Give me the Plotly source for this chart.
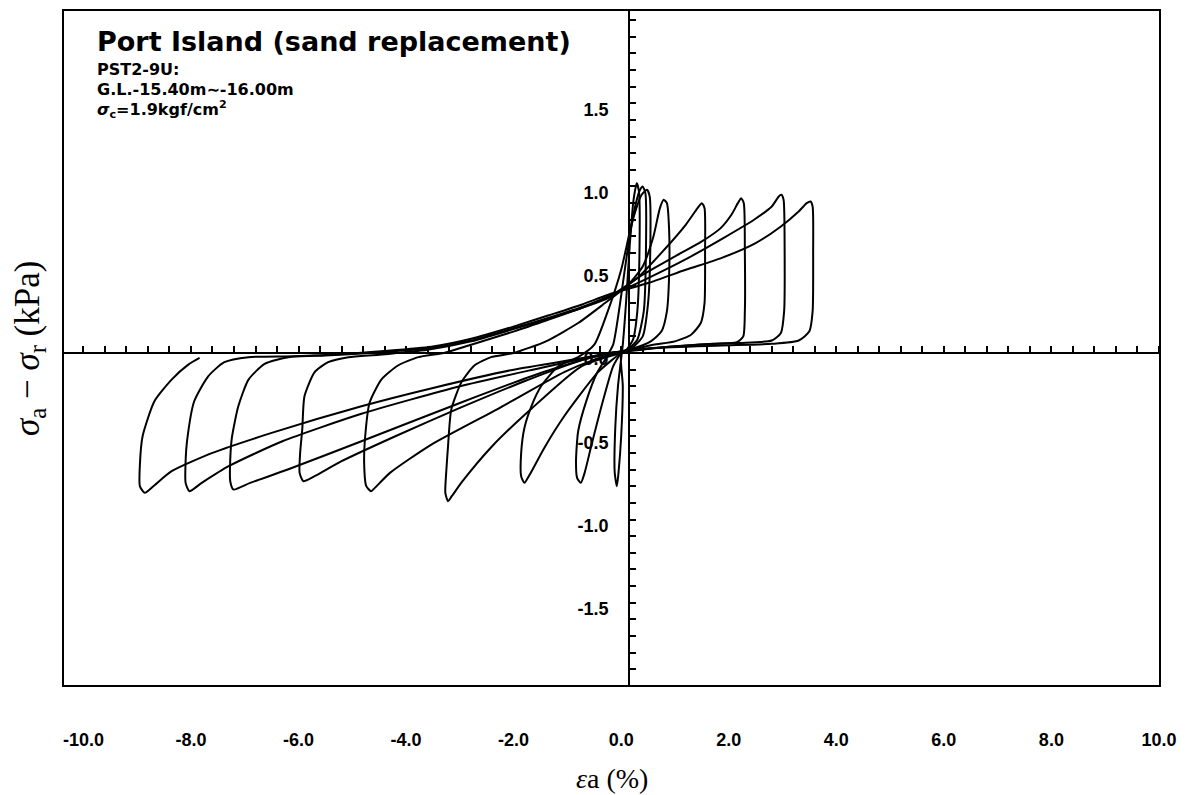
import plotly.graph_objects as go

# ---------------- data (strain % , deviator stress) ----------------
cycA_x = [0.0, 0.03, 0.0, -0.05, -0.08, -0.12, -0.11, -0.06, -0.01, 0.03, 0.09, 0.16, 0.23, 0.29, 0.33, 0.34, 0.3, 0.22, 0.1, 0.0]
cycA_y = [0.0, -0.2, -0.5, -0.72, -0.8, -0.72, -0.45, -0.2, -0.06, 0.05, 0.3, 0.65, 0.92, 1.02, 0.97, 0.6, 0.25, 0.08, 0.02, 0.0]

cycB_x = [0.0, -0.15, -0.35, -0.55, -0.68, -0.75, -0.82, -0.84, -0.8, -0.64, -0.45, -0.3, -0.15, -0.02, 0.12, 0.26, 0.35, 0.4, 0.45, 0.46, 0.42, 0.3, 0.12, 0.0]
cycB_y = [0.0, -0.08, -0.3, -0.55, -0.72, -0.78, -0.75, -0.65, -0.47, -0.28, -0.12, -0.04, 0.05, 0.3, 0.62, 0.88, 0.98, 1.0, 0.96, 0.6, 0.25, 0.08, 0.02, 0.0]

cycC_x = [0.0, -0.43, -1.06, -1.43, -1.7, -1.8, -1.86, -1.86, -1.8, -1.67, -1.49, -1.17, -0.8, -0.5, -0.25, 0.0, 0.2, 0.38, 0.48, 0.53, 0.54, 0.5, 0.4, 0.2, 0.0]
cycC_y = [0.0, -0.115, -0.38, -0.57, -0.73, -0.78, -0.74, -0.6, -0.45, -0.32, -0.2, -0.08, -0.025, 0.05, 0.25, 0.5, 0.78, 0.95, 0.98, 0.94, 0.6, 0.3, 0.1, 0.03, 0.0]

cycD_x = [0.0, -0.74, -1.67, -2.4, -2.95, -3.15, -3.22, -3.27, -3.25, -3.22, -3.16, -2.97, -2.73, -2.42, -2.0, -1.4, -0.8, -0.3, 0.1, 0.4, 0.6, 0.72, 0.79, 0.85, 0.89, 0.89, 0.85, 0.75, 0.55, 0.25, 0.0]
cycD_y = [0.0, -0.08, -0.335, -0.56, -0.77, -0.86, -0.89, -0.84, -0.7, -0.56, -0.34, -0.175, -0.075, -0.025, 0.0, 0.07, 0.18, 0.3, 0.4, 0.52, 0.7, 0.87, 0.92, 0.9, 0.75, 0.45, 0.25, 0.13, 0.07, 0.03, 0.01]

cycE_x = [0.0, -0.5, -1.06, -2.29, -3.53, -4.3, -4.58, -4.65, -4.74, -4.78, -4.76, -4.68, -4.46, -4.15, -3.77, -3.3, -2.79, -1.99, -1.36, -0.74, -0.24, 0.3, 0.8, 1.2, 1.42, 1.5, 1.55, 1.56, 1.55, 1.48, 1.3, 1.0, 0.6, 0.2, -0.2]
cycE_y = [0.01, -0.04, -0.115, -0.335, -0.55, -0.72, -0.81, -0.83, -0.8, -0.66, -0.5, -0.3, -0.16, -0.075, -0.025, 0.0, 0.05, 0.13, 0.2, 0.27, 0.33, 0.45, 0.62, 0.77, 0.87, 0.9, 0.87, 0.6, 0.3, 0.18, 0.11, 0.07, 0.05, 0.02, 0.0]

cycF_x = [-0.2, -0.7, -1.8, -3.0, -4.2, -5.2, -5.7, -5.91, -5.98, -5.97, -5.93, -5.89, -5.7, -5.45, -5.07, -4.5, -3.6, -2.79, -1.99, -1.36, -0.74, -0.24, 0.4, 1.0, 1.5, 1.85, 2.05, 2.17, 2.23, 2.28, 2.3, 2.3, 2.27, 2.15, 1.7, 1.0, 0.4, -0.2]
cycF_y = [0.0, -0.04, -0.17, -0.33, -0.5, -0.65, -0.74, -0.77, -0.72, -0.6, -0.455, -0.26, -0.115, -0.055, -0.025, -0.01, 0.02, 0.07, 0.145, 0.205, 0.27, 0.335, 0.47, 0.58, 0.67, 0.75, 0.83, 0.9, 0.93, 0.9, 0.6, 0.25, 0.1, 0.065, 0.055, 0.04, 0.02, 0.0]

cycG_x = [-0.2, -0.7, -1.5, -3.0, -4.83, -6.2, -6.9, -7.21, -7.27, -7.27, -7.24, -7.12, -6.93, -6.63, -6.19, -5.5, -4.46, -3.53, -2.79, -1.99, -1.36, -0.74, -0.24, 0.5, 1.24, 1.9, 2.47, 2.8, 2.93, 2.98, 3.02, 3.04, 3.03, 2.97, 2.8, 2.2, 1.4, 0.6, -0.2]
cycG_y = [0.0, -0.04, -0.12, -0.3, -0.53, -0.7, -0.78, -0.82, -0.77, -0.64, -0.51, -0.32, -0.16, -0.065, -0.025, -0.015, 0.005, 0.03, 0.075, 0.15, 0.21, 0.275, 0.34, 0.45, 0.57, 0.69, 0.8, 0.88, 0.94, 0.95, 0.92, 0.6, 0.25, 0.12, 0.075, 0.06, 0.05, 0.03, 0.0]

cycH_x = [-0.2, -0.8, -1.5, -3.0, -4.83, -6.3, -7.3, -7.8, -8.03, -8.1, -8.1, -8.07, -7.94, -7.68, -7.38, -6.93, -6.08, -5.07, -4.46, -3.53, -2.79, -1.99, -1.36, -0.74, -0.24, 0.5, 1.2, 1.86, 2.5, 2.97, 3.3, 3.45, 3.52, 3.56, 3.57, 3.56, 3.5, 3.3, 2.8, 1.86, 0.6, -0.2]
cycH_y = [0.0, -0.04, -0.09, -0.2, -0.365, -0.53, -0.68, -0.78, -0.83, -0.78, -0.65, -0.52, -0.29, -0.14, -0.055, -0.025, -0.02, -0.005, 0.01, 0.037, 0.085, 0.16, 0.225, 0.29, 0.35, 0.42, 0.5, 0.57, 0.66, 0.76, 0.85, 0.9, 0.91, 0.88, 0.6, 0.25, 0.13, 0.075, 0.055, 0.045, 0.03, 0.0]

cycI_x = [-0.2, -0.8, -2.0, -3.5, -4.83, -6.5, -7.6, -8.36, -8.7, -8.86, -8.95, -8.95, -8.9, -8.68, -8.36, -8.05, -7.84]
cycI_y = [0.0, -0.035, -0.1, -0.21, -0.32, -0.48, -0.6, -0.71, -0.8, -0.84, -0.8, -0.67, -0.5, -0.29, -0.16, -0.07, -0.03]

x_tick_values = [-10, -8, -6, -4, -2, 0, 2, 4, 6, 8, 10]
x_tick_labels = ["-10.0", "-8.0", "-6.0", "-4.0", "-2.0", "0.0", "2.0", "4.0", "6.0", "8.0", "10.0"]
y_tick_values = [-1.5, -1.0, -0.5, 0.0, 0.5, 1.0, 1.5]
y_tick_labels = ["-1.5", "-1.0", "-0.5", "0.0", "0.5", "1.0", "1.5"]

X_RANGE = [-10.38, 10.02]
Y_RANGE = [-2.0, 2.06]
YAXIS_AT = 0.15   # strain where the vertical axis line is drawn

cycles = [(cycA_x, cycA_y), (cycB_x, cycB_y), (cycC_x, cycC_y), (cycD_x, cycD_y),
          (cycE_x, cycE_y), (cycF_x, cycF_y), (cycG_x, cycG_y), (cycH_x, cycH_y),
          (cycI_x, cycI_y)]

fig = go.Figure()
for cx, cy in cycles:
    fig.add_trace(go.Scatter(x=cx, y=cy, mode="lines", showlegend=False, hoverinfo="skip",
                             line=dict(color="black", width=2, shape="spline", smoothing=0.6)))
# empty trace to create the bottom label axis
fig.add_trace(go.Scatter(x=[], y=[], xaxis="x2", yaxis="y", showlegend=False, hoverinfo="skip"))

tickfont = dict(family="Liberation Sans", size=18, color="black", weight="bold")
x_pos = (0 - Y_RANGE[0]) / (Y_RANGE[1] - Y_RANGE[0])
y_pos = (YAXIS_AT - X_RANGE[0]) / (X_RANGE[1] - X_RANGE[0])

fig.update_layout(
    width=1189, height=795,
    margin=dict(l=63, r=29, t=10, b=109),
    paper_bgcolor="white", plot_bgcolor="white",
    xaxis=dict(range=X_RANGE, anchor="free", position=x_pos, showline=True, linecolor="black",
               linewidth=2, ticks="inside", tick0=-10, dtick=0.4, ticklen=6, tickwidth=1.5,
               tickcolor="black", showticklabels=False, showgrid=False, zeroline=False),
    xaxis2=dict(range=X_RANGE, overlaying="x", anchor="y", side="bottom", showline=False,
                ticks="", tickvals=x_tick_values, ticktext=x_tick_labels, tickfont=tickfont,
                ticklabelstandoff=41, showgrid=False, zeroline=False),
    yaxis=dict(range=Y_RANGE, anchor="free", position=y_pos, side="left", showline=True,
               linecolor="black", linewidth=2, ticks="inside", tickvals=y_tick_values,
               ticktext=y_tick_labels, ticklen=6, tickwidth=1.5, tickcolor="black",
               minor=dict(dtick=0.1, tick0=0, ticks="inside", ticklen=6, tickwidth=1.5, tickcolor="black"),
               tickfont=tickfont, ticklabelstandoff=16, ticklabelshift=6,
               showgrid=False, zeroline=False),
    shapes=[dict(type="rect", xref="paper", yref="paper", x0=0, x1=1, y0=0, y1=1,
                 line=dict(color="black", width=2), layer="above")],
    annotations=[
        dict(xref="paper", yref="paper", x=-0.031, y=0.5, xanchor="center", yanchor="middle",
             text="<i>σ</i><sub>a</sub> − <i>σ</i><sub>r</sub> (kPa)", textangle=-90, showarrow=False,
             font=dict(family="Liberation Serif", size=35, color="black")),
        dict(xref="paper", yref="paper", x=0.5, y=-0.137, xanchor="center", yanchor="middle",
             text="<i>ε</i>a (%)", showarrow=False,
             font=dict(family="Liberation Serif", size=28, color="black")),
        dict(xref="paper", yref="paper", x=0.029, y=0.953, xanchor="left", yanchor="middle",
             text="<b>Port Island (sand replacement)</b>", showarrow=False,
             font=dict(family="DejaVu Sans", size=27, color="black")),
        dict(xref="paper", yref="paper", x=0.029, y=0.912, xanchor="left", yanchor="middle",
             text="<b>PST2-9U:</b>", showarrow=False,
             font=dict(family="DejaVu Sans", size=16, color="black")),
        dict(xref="paper", yref="paper", x=0.029, y=0.883, xanchor="left", yanchor="middle",
             text="<b>G.L.-15.40m∼-16.00m</b>", showarrow=False,
             font=dict(family="DejaVu Sans", size=16, color="black")),
        dict(xref="paper", yref="paper", x=0.029, y=0.853, xanchor="left", yanchor="middle",
             text="<b><i>σ</i><sub>c</sub>=1.9kgf/cm<sup>2</sup></b>", showarrow=False,
             font=dict(family="DejaVu Sans", size=16, color="black")),
    ],
)

fig.write_html("out.html")
